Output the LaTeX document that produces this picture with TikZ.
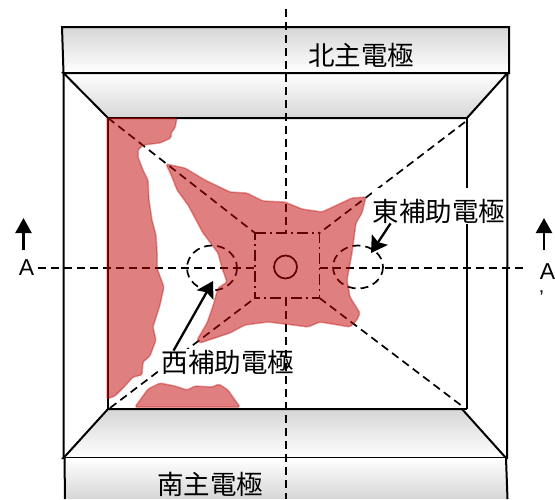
\documentclass[tikz,border=0pt]{standalone}
\usepackage{fontspec}
\setmainfont{Liberation Sans}
\newfontfamily\cjk{Noto Sans CJK JP}
\usetikzlibrary{arrows.meta}
\definecolor{elecgray}{RGB}{214,214,214}
\definecolor{patchred}{RGB}{192,0,0}
\tikzset{
  wire/.style={draw=black,line width=2pt},
  grayTop/.style={wire,top color=elecgray,bottom color=white,draw=black},
  grayBottom/.style={wire,top color=white,bottom color=elecgray,draw=black},
  dashline/.style={line width=1.7pt,dash pattern=on 8pt off 5pt},
  dashdotline/.style={line width=1.7pt,dash pattern=on 11pt off 4pt on 2pt off 4pt},
  patch/.style={fill=patchred,fill opacity=.5,draw=patchred,draw opacity=.35,line width=1.5pt,rounded corners=1.5pt},
  electrodeLabel/.style={font=\fontsize{26.5pt}{26.5pt}\cjk,inner sep=0pt},
  boxedLabel/.style={electrodeLabel,fill=white,inner xsep=1pt,inner ysep=1pt},
  latin/.style={font=\fontsize{23pt}{23pt}\selectfont,inner sep=0pt},
  pointer/.style={line width=2.3pt,-{Stealth[length=16pt,width=19pt,inset=3pt]}},
  section/.style={line width=2.3pt,-{Triangle[length=15pt,width=16pt]}}
}
\begin{document}
\begin{tikzpicture}[x=1pt,y=-1pt]
\useasboundingbox[fill=white] (0,0) rectangle (555,499);
% corner coordinates
\coordinate (ot1) at (63.5,73);
\coordinate (ot2) at (507.5,73);
\coordinate (ob1) at (63.5,458);
\coordinate (ob2) at (507,458);
\coordinate (it1) at (108,118);
\coordinate (it2) at (467,118);
\coordinate (ib1) at (108,409);
\coordinate (ib2) at (467,409);
\coordinate (cnw) at (255,233);
\coordinate (cne) at (319.5,233);
\coordinate (csw) at (255,298);
\coordinate (cse) at (319.5,298);
% electrodes
\path[grayTop] (62,27) -- (509,27) -- (509,73) -- (63.5,73) -- cycle;
\path[grayBottom] (ot1) -- (ot2) -- (467,118) -- (108,118) -- cycle;
\path[grayTop] (108,409) -- (462,409) -- (506,458) -- (63.5,458) -- cycle;
\shade[top color=white,bottom color=elecgray] (64.5,458) -- (506,458) -- (507.5,499) -- (65,499) -- cycle;
\draw[wire] (64.5,458) -- (65,499) (506,458) -- (507.5,499);
% outer and inner frames
\draw[wire] (ot1) -- (ob1) (ot2) -- (ob2);
\draw[line width=1.8pt] (it1) -- (ib1) (it2) -- (ib2) (ib2) -- (462,409);
% diagonal dashed lines and the central square
\draw[dashline] (it1) -- (cnw);
\draw[dashline] (465,122) -- (cne);
\draw[dashline] (110,408) -- (csw);
\draw[dashline] (cse) -- (462,406);
\draw[dashdotline] (cnw) -- (cne) -- (cse) -- (csw) -- cycle;
\draw[line width=1.7pt] (285.5,267) circle[radius=11.5];
\draw[dashline] (212,268) ellipse[x radius=25,y radius=22.5];
\draw[dashline] (358,267) ellipse[x radius=25,y radius=21.5];
% labels
\fill[white] (372,188) rectangle (506,223);
\node[electrodeLabel] (north) at (361,55) {北主電極};
\node[electrodeLabel] (south) at (210,484) {南主電極};
\node[boxedLabel] (east) at (439,211) {東補助電極};
\node[boxedLabel] (west) at (228,362) {西補助電極};
\node[latin] (a1) at (26.5,268) {A};
\node[latin] (a2) at (547.5,272) {A};
\node[latin,font=\fontsize{20pt}{20pt}\selectfont] (a3) at (541.5,298) {’};
% centre lines
\coordinate (vtop) at (286,9);
\coordinate (vbot) at (286,499);
\coordinate (hend) at (523,268);
\draw[dashline] (vtop) -- (286,233);
\draw[dashline] (286,298) -- (vbot);
\draw[dashline] ([xshift=4pt]a1.east) -- (255,268);
\draw[dashline] (319.5,268) -- (hend);
% deposited patches
\path[patch] (107,118) -- (177,118) -- (175,128) -- (171,133) -- (171,138) -- (160,143) -- (143,145) -- (138,150) -- (138,157) -- (143,170) -- (148,180) -- (149,200) -- (152,220) -- (156,235) -- (157,250) -- (157,268) -- (164,287) -- (160,305) -- (153,327) -- (156,340) -- (150,356) -- (143,362) -- (142,375) -- (133,377) -- (125,386) -- (115,396) -- (107,399) -- cycle;
\path[patch] (135,407) -- (148,389) -- (160,383) -- (175,386) -- (187,390) -- (195,386) -- (212,387) -- (219,384) -- (228,390) -- (240,407) -- cycle;
\path[patch] (166,164) -- (185,168) -- (205,180) -- (230,192) -- (247,193) -- (263,201) -- (285,202) -- (302,209) -- (322,212) -- (352,198) -- (366,197) -- (362,213) -- (356,223) -- (352,253) -- (347,280) -- (350,297) -- (360,313) -- (357,320) -- (350,327) -- (320,322) -- (308,327) -- (293,325) -- (268,322) -- (245,325) -- (230,333) -- (200,343) -- (197,340) -- (207,323) -- (213,306) -- (218,288) -- (227,282) -- (222,268) -- (218,253) -- (203,233) -- (188,205) -- (177,190) -- (172,177) -- cycle;
% pointers
\coordinate (westTip) at (213,281);
\coordinate (eastTip) at (371,253);
\draw[pointer] ([xshift=13pt,yshift=-2pt]west.north west) -- (westTip);
\draw[pointer] ([xshift=19pt,yshift=1pt]east.south west) -- (eastTip);
% section arrows
\coordinate (lTail) at (23.5,250);
\coordinate (lTip) at (23.5,218);
\coordinate (rTail) at (544,250);
\coordinate (rTip) at (544,218);
\draw[section] (lTail) -- (lTip);
\draw[section] (rTail) -- (rTip);
\end{tikzpicture}
\end{document}
